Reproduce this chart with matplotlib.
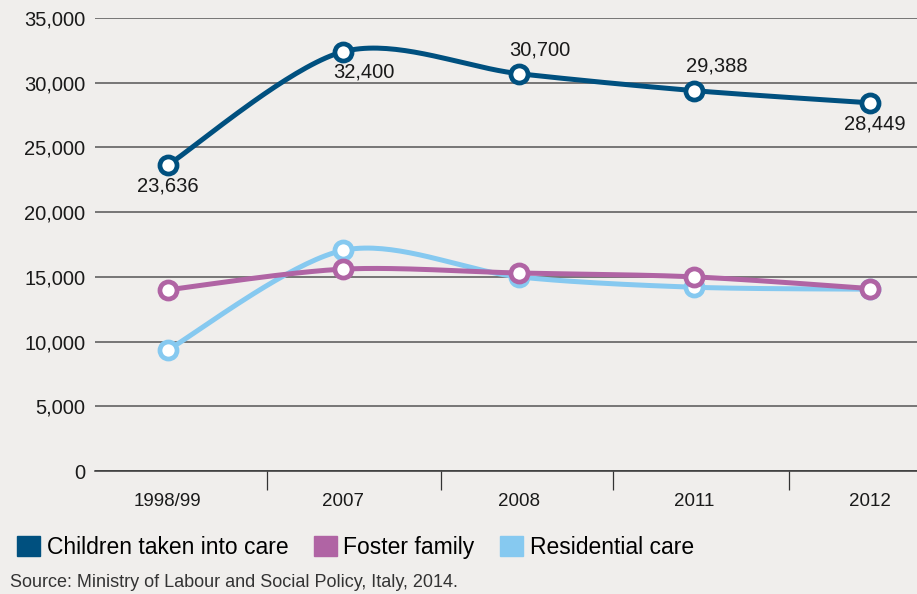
import numpy as np
import matplotlib
matplotlib.use('Agg')
import matplotlib.pyplot as plt
from matplotlib.patches import Patch

# data
years = ['1998/99', '2007', '2008', '2011', '2012']
children = [23636, 32400, 30700, 29388, 28449]
foster = [14000, 15600, 15300, 15000, 14100]
residential = [9350, 17050, 15000, 14200, 14050]
child_labels = ['23,636', '32,400', '30,700', '29,388', '28,449']

DARK = '#00507f'
PURPLE = '#b064a4'
LIGHT = '#86c9f0'
BG = '#f0eeec'

plt.rcParams['font.family'] = ['Liberation Sans', 'DejaVu Sans']


def smooth(xs, ys, n=40, k=0.9):
    """Catmull-Rom style curve through the points, used only to draw the line"""
    xs = np.asarray(xs, float)
    ys = np.asarray(ys, float)
    px = np.concatenate([[xs[0]], xs, [xs[-1]]])
    py = np.concatenate([[ys[0]], ys, [ys[-1]]])
    out_x, out_y = [], []
    t = np.linspace(0, 1, n)
    h00 = 2 * t**3 - 3 * t**2 + 1
    h10 = t**3 - 2 * t**2 + t
    h01 = -2 * t**3 + 3 * t**2
    h11 = t**3 - t**2
    for i in range(1, len(px) - 2):
        for p, out in ((px, out_x), (py, out_y)):
            p0, p1, p2, p3 = p[i - 1], p[i], p[i + 1], p[i + 2]
            m1 = k * (p2 - p0) / 2.0
            m2 = k * (p3 - p1) / 2.0
            out.extend(h00 * p1 + h10 * m1 + h01 * p2 + h11 * m2)
    return np.array(out_x), np.array(out_y)


fig = plt.figure(figsize=(9.17, 5.94), dpi=100, facecolor=BG)
ax = fig.add_axes([0.1036, 0.207, 0.8964, 0.7627], facecolor=BG)

x = np.arange(len(years))
series = [
    (residential, LIGHT, 'Residential care', 3),
    (foster, PURPLE, 'Foster family', 4),
    (children, DARK, 'Children taken into care', 5),
]
for vals, col, name, z in series:
    sx, sy = smooth(x, vals)
    ax.plot(sx, sy, color=col, lw=3.6, zorder=z, solid_capstyle='round', clip_on=False)
    ax.plot(x, vals, 'o', ms=12.3, mfc='white', mec=col, mew=3.4, zorder=z + 0.5,
            clip_on=False)

# data labels for the top series (offsets in points)
offsets = [(0, -15), (14.5, -15), (15, 17), (16, 18), (3.5, -15)]
for xi, v, lab, (dx, dy) in zip(x, children, child_labels, offsets):
    ax.annotate(lab, (xi, v), xytext=(dx, dy), textcoords='offset points',
                ha='center', va='center', fontsize=14.5, color='#1a1a1a', zorder=10)

ax.set_ylim(0, 35000)
ax.set_xlim(-0.415, 4.27)
ax.set_yticks(np.arange(0, 35001, 5000))
ax.set_yticklabels(['{:,}'.format(v) for v in range(0, 35001, 5000)])
ax.yaxis.grid(True, color='#555555', lw=1.1)
ax.set_axisbelow(True)
ax.tick_params(axis='y', length=0, pad=7, labelsize=14.5, labelcolor='#1a1a1a')

ax.set_xticks(x)
ax.set_xticklabels(years)
ax.tick_params(axis='x', which='major', length=0, pad=16, labelsize=13.5, labelcolor='#1a1a1a')
ax.set_xticks([0.565, 1.555, 2.54, 3.54], minor=True)
ax.tick_params(axis='x', which='minor', length=13.5, width=0.9, color='#333333', direction='out')

for s in ['top', 'right', 'left']:
    ax.spines[s].set_visible(False)
ax.spines['bottom'].set_color('#333333')
ax.spines['bottom'].set_linewidth(1.1)

handles = [Patch(color=c, label=n) for _, c, n, _ in series[::-1]]
fig.legend(handles=handles, loc='center left', bbox_to_anchor=(0.0185, 0.079), ncol=3,
           frameon=False, handlelength=1.0, handleheight=1.0, handletextpad=0.3,
           columnspacing=1.1, borderaxespad=0, borderpad=0,
           prop={'size': 16.5})

fig.text(0.011, 0.012, 'Source: Ministry of Labour and Social Policy, Italy, 2014.',
         fontsize=13, color='#333333')

fig.savefig('out.png', dpi=100, facecolor=BG)
